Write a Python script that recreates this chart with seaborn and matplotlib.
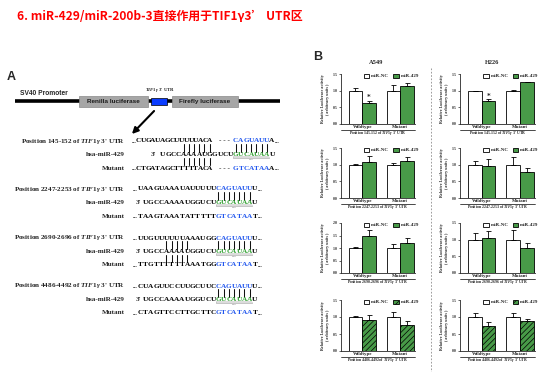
import matplotlib
matplotlib.use('Agg')
import matplotlib.pyplot as plt
from matplotlib.patches import Rectangle
import seaborn as sns
import pandas as pd
import numpy as np

# datos (actividad relativa de luciferasa)
grupos = ['Wildtype', 'Mutant']
tratamientos = ['miR-NC', 'miR-429']
posiciones = ['145-152', '2247-2253', '2690-2696', '4486-4492']

a549_nc = [[1.00, 1.00], [1.00, 1.00], [1.00, 1.00], [1.00, 1.00]]
a549_nc_err = [[0.09, 0.16], [0.01, 0.05], [0.03, 0.15], [0.03, 0.15]]
a549_429 = [[0.64, 1.14], [1.09, 1.11], [1.48, 1.22], [0.91, 0.76]]
a549_429_err = [[0.06, 0.10], [0.17, 0.12], [0.24, 0.17], [0.14, 0.12]]
a549_ymax = [1.5, 1.5, 2.0, 1.5]

h226_nc = [[1.00, 1.00], [1.00, 1.00], [1.00, 1.00], [1.00, 1.00]]
h226_nc_err = [[0.00, 0.03], [0.10, 0.24], [0.20, 0.28], [0.13, 0.11]]
h226_429 = [[0.70, 1.26], [0.97, 0.79], [1.05, 0.74], [0.75, 0.88]]
h226_429_err = [[0.04, 0.00], [0.20, 0.12], [0.20, 0.15], [0.11, 0.06]]
h226_ymax = [1.5, 1.5, 1.5, 1.5]

# secuencias del panel A
seq_utr = ['CUGAUAGCUUUUUACA', 'UAAGUAAAUAUUUUU', 'UUGUUUUUUAAAUGG', 'CUAGUUCCUUGCUUC']
seq_mut = ['CTGATAGCTTTTTACA', 'TAAGTAAATATTTTT', 'TTGTTTTTTAAATGG', 'CTAGTTCCTTGCTTC']
seed_utr = 'CAGUAUU'
seed_mut = 'GTCATAA'
mir_5 = 'UGCCAAAAUGGUCU'
mir_seed = 'GUCAUAA'

W, H = 554, 372
SERIF = 'Liberation Serif'
SANS = 'Liberation Sans'
VERDE = '#3aa83a'
AZUL = '#1f55ee'
VERDE_TXT = '#2fa02f'

sns.set_style('ticks')
plt.rcParams['font.family'] = ['DejaVu Sans']
plt.rcParams['mathtext.fontset'] = 'custom'
plt.rcParams['mathtext.it'] = 'Liberation Serif:italic:bold'
plt.rcParams['mathtext.rm'] = 'Liberation Serif:bold'
plt.rcParams['hatch.linewidth'] = 0.5
plt.rcParams['hatch.color'] = '#0d4d0d'


def frac(x0, y0, x1, y1):
    return [x0 / W, 1 - y1 / H, (x1 - x0) / W, (y1 - y0) / H]


fig = plt.figure(figsize=(W / 100, H / 100), dpi=100)
bg = fig.add_axes([0, 0, 1, 1])
bg.set_xlim(0, W)
bg.set_ylim(H, 0)
bg.axis('off')

# titulo
bg.text(17, 17, '6. miR-429/miR-200b-3直接作用于TIF1γ3’ UTR区', color='#ff0000',
        fontsize=8.6, weight='bold', family=['Noto Sans CJK SC', 'DejaVu Sans'],
        ha='left', va='center')

# ---------------- panel A ----------------
bg.text(7, 77, 'A', fontsize=9, weight='bold', family=SANS, va='center')
bg.plot([15, 280], [101, 101], color='black', lw=2.6, solid_capstyle='butt', zorder=1)
bg.text(20, 93.5, 'SV40 Promoter', fontsize=4.8, weight='bold', family=SANS, va='center')
for x0, w, txt in [(79, 69, 'Renilla luciferase'), (172, 66, 'Firefly luciferase')]:
    bg.add_patch(Rectangle((x0, 95.5), w, 11, fc='#a6a6a6', ec='#8a8a8a', lw=0.5, zorder=2))
    bg.text(x0 + w / 2, 101.3, txt, fontsize=4.6, weight='bold', family=SANS,
            ha='center', va='center', color='#1a1a1a', zorder=4)
bg.add_patch(Rectangle((151, 97.5), 16, 7, fc='#0a3cff', ec='black', lw=0.5, zorder=2))
bg.text(160, 89.5, r"$\mathit{TIF1\gamma}$ 3' UTR", fontsize=3.4, weight='bold',
        family=SERIF, ha='center', va='center')
bg.annotate('', xy=(130, 136), xytext=(156, 109),
            arrowprops=dict(arrowstyle='-|>', lw=1.5, color='black', mutation_scale=9))

FS = 5.2
FL = 5.1
P = 5.2


def letras(x0, y, s, color, paso=P):
    for i, ch in enumerate(s):
        bg.text(x0 + i * paso, y, ch, color=color, ha='center', va='center',
                fontsize=FS, family=SERIF, weight='bold')


def puntos(x, y, ha):
    bg.text(x, y + 0.8, '...', ha=ha, va='center', fontsize=FS - 0.6, family=SERIF, weight='bold')


def rayas(xs, y1, y2):
    for x in xs:
        bg.plot([x, x], [y1, y2], color='#111111', lw=0.75)


def semilla(x0, y):
    x1 = x0 - P / 2
    x2 = x0 + 6 * P + P / 2
    bg.add_patch(Rectangle((x1, y + 1.2), x2 - x1, 2.4, fc='#dcdcdc', ec='none', zorder=0))
    bg.plot([x1, x1, x2, x2], [y + 2.7, y + 3.8, y + 3.8, y + 2.7], color='#9a9a9a', lw=0.4)
    bg.text((x1 + x2) / 2, y + 5.2, 'Seed', fontsize=1.6, color='#555555',
            ha='center', va='center', family=SERIF)


filas_y = [141, 189, 238, 286]
for b in range(4):
    y0 = filas_y[b]
    y1, y2 = y0 + 13.5, y0 + 27
    bg.text(125, y0, r'Position %s of $\mathit{TIF1\gamma}$ 3' % posiciones[b] + "' UTR",
            fontsize=FL, weight='bold', family=SERIF, ha='right', va='center')
    bg.text(125, y1, 'hsa-miR-429', fontsize=FL, weight='bold', family=SERIF, ha='right', va='center')
    bg.text(125, y2, 'Mutant', fontsize=FL, weight='bold', family=SERIF, ha='right', va='center')

    if b == 0:
        c0 = 162.8
        bg.text(151, y1, "3'", fontsize=FS, weight='bold', family=SERIF, ha='left', va='center')
        pp = 4.75
        xs0 = 210 - 15 * pp
        for yy, s, sd in [(y0, seq_utr[0], seed_utr), (y2, seq_mut[0], seed_mut)]:
            puntos(xs0 - 2.4, yy, 'right')
            letras(xs0, yy, s, 'black', pp)
            bg.text(224, yy, '- - -', fontsize=FS, weight='bold', family=SERIF, ha='center', va='center')
            letras(c0 + 14 * P, yy, sd, AZUL)
            letras(c0 + 21 * P, yy, 'A', 'black')
            puntos(c0 + 21 * P + 2.8, yy, 'left')
        rayas([c0 + k * P for k in range(4, 10)], y0 + 3, y1 - 3)
        rayas([c0 + k * P for k in range(4, 10)], y1 + 3, y2 - 3)
    else:
        c0 = 145.6
        bg.text(136, y1, "3'", fontsize=FS, weight='bold', family=SERIF, ha='left', va='center')
        for yy, s, sd in [(y0, seq_utr[b], seed_utr), (y2, seq_mut[b], seed_mut)]:
            puntos(c0 - P - 2.6, yy, 'right')
            letras(c0 - P, yy, s, 'black')
            letras(c0 + 14 * P, yy, sd, AZUL)
            letras(c0 + 21 * P, yy, 'U' if yy == y0 else 'T', 'black')
            puntos(c0 + 21 * P + 2.8, yy, 'left')
        if b == 2:
            rayas([c0 + k * P for k in range(4, 9)], y0 + 3, y1 - 3)
            rayas([c0 + k * P for k in range(4, 9)], y1 + 3, y2 - 3)
    semilla(c0 + 14 * P, y1)
    letras(c0, y1, mir_5, 'black')
    letras(c0 + 14 * P, y1, mir_seed, VERDE_TXT)
    letras(c0 + 21 * P, y1, 'U', 'black')
    rayas([c0 + k * P for k in range(14, 21)], y0 + 3, y1 - 3)

# ---------------- panel B ----------------
bg.text(313, 57, 'B', fontsize=9, weight='bold', family=SANS, va='center')
bg.text(376, 62.5, 'A549', fontsize=4.6, weight='bold', family=SERIF, ha='center', va='center')
bg.text(492, 62.5, 'H226', fontsize=4.6, weight='bold', family=SERIF, ha='center', va='center')
bg.plot([431, 431], [68, 372], color='#8c8c8c', lw=0.6, ls=(0, (2, 2)))

col_x = [(341, 415), (460, 535)]
row_y = [(74, 124), (148, 198), (223, 273), (300, 351)]
lineas = [(a549_nc, a549_nc_err, a549_429, a549_429_err, a549_ymax),
          (h226_nc, h226_nc_err, h226_429, h226_429_err, h226_ymax)]

for c, (nc, nc_err, mir, mir_err, ymax) in enumerate(lineas):
    for r in range(4):
        x0, x1 = col_x[c]
        ya, yb = row_y[r]
        ax = fig.add_axes(frac(x0, ya, x1, yb))
        ax.set_facecolor('none')
        df = pd.DataFrame({
            'grupo': grupos * 2,
            'tratamiento': [t for t in tratamientos for _ in grupos],
            'valor': nc[r] + mir[r],
        })
        sns.barplot(data=df, x='grupo', y='valor', hue='tratamiento', order=grupos,
                    hue_order=tratamientos, palette=['white', VERDE], width=0.72,
                    edgecolor='black', linewidth=0.6, errorbar=None, ax=ax)
        if r == 3:
            for barra in ax.containers[1]:
                barra.set_hatch('//////')
        for cont, errs in zip(ax.containers, [nc_err[r], mir_err[r]]):
            xs = [bb.get_x() + bb.get_width() / 2 for bb in cont]
            ys = [bb.get_height() for bb in cont]
            ax.errorbar(xs, ys, yerr=[np.zeros(len(errs)), errs], fmt='none', ecolor='black',
                        elinewidth=0.6, capsize=1.8, capthick=0.6)
            if r == 0 and cont is ax.containers[1]:
                ax.text(xs[0], ys[0] + errs[0] + 0.01, '*', ha='center', va='bottom',
                        fontsize=5, weight='bold')
        ax.legend(ax.containers, tratamientos, loc='center', bbox_to_anchor=(0.68, 0.96),
                  ncol=2, frameon=False, handlelength=1.1, handleheight=0.9,
                  columnspacing=0.8, handletextpad=0.4, borderaxespad=0,
                  prop={'family': SERIF, 'weight': 'bold', 'size': 3.6})
        ax.set_xlim(-0.56, 1.39)
        ax.set_ylim(0, ymax[r])
        ticks = np.arange(0, ymax[r] + 0.01, 0.5)
        ax.set_yticks(ticks)
        ax.set_yticklabels([f'{t:.1f}' for t in ticks], family=SERIF, weight='bold', fontsize=2.8)
        ax.set_xticks([0, 1])
        ax.set_xticklabels(grupos, family=SERIF, weight='bold', fontsize=3.6)
        ax.set_xlabel('')
        ax.set_ylabel('Relative Luciferase activity\n( arbitrary units )', family=SERIF,
                      weight='bold', fontsize=3.0, labelpad=2, linespacing=1.3)
        sns.despine(ax=ax)
        for lado in ['left', 'bottom']:
            ax.spines[lado].set_linewidth(0.6)
        ax.tick_params(axis='x', length=0, pad=1)
        ax.tick_params(axis='y', length=1.5, width=0.5, pad=1)
        ax.plot([0, 1], [-0.115, -0.115], transform=ax.transAxes, clip_on=False,
                color='black', lw=0.5)
        ax.text(0.5, -0.175, r'Position %s of $\mathit{TIF1\gamma}$ 3' % posiciones[r] + "' UTR",
                transform=ax.transAxes, ha='center', va='center', fontsize=2.8,
                family=SERIF, weight='bold')

fig.savefig('out.png', dpi=100)
